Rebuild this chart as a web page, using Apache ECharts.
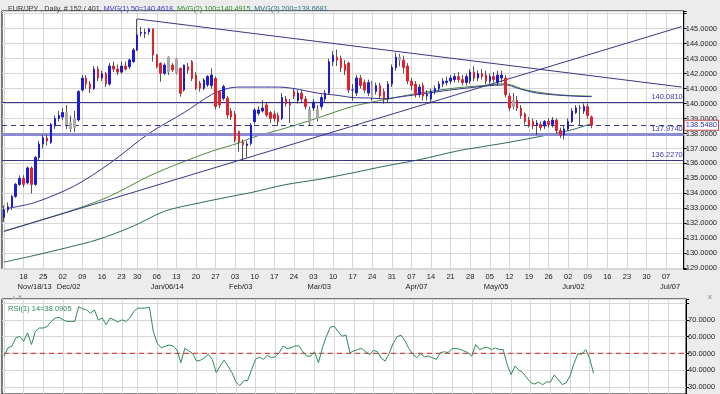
<!DOCTYPE html>
<html><head><meta charset="utf-8">
<script src="https://cdn.jsdelivr.net/npm/echarts@6/dist/echarts.min.js"></script>
<style>html,body{margin:0;padding:0;background:#ececec;}#c{width:720px;height:394px;}</style>
</head><body><div id="c"></div>
<script>
// ---------- data ----------
const symbolName = 'EUR/JPY';
const period = 'Daily';
const barInfo = '# 152 / 401';
const startDate = '2013-11-11';
const categoryCount = 174;
const holidays = ['2013-12-25'];
const firstDayLabel = '2013-11-18';
const monthLabels = {'2013-11-18':'Nov/18/13','2013-12-02':'Dec/02','2014-01-06':'Jan/06/14','2014-02-03':'Feb/03','2014-03-03':'Mar/03','2014-04-07':'Apr/07','2014-05-05':'May/05','2014-06-02':'Jun/02','2014-07-07':'Jul/07'};
// [open, close, low, high]
const ohlc = [
[132.4,132.9,132.1,133.2],[132.9,133.1,132.7,133.4],[133.1,133.8,132.9,133.9],[133.8,134.6,133.7,134.7],[134.6,135.0,134.5,135.2],
[135.0,134.6,134.4,135.2],[134.7,135.7,134.6,135.8],[135.7,134.6,134.0,135.8],[134.6,136.4,134.5,136.5],[136.4,137.3,136.2,137.5],
[137.3,137.7,137.0,137.9],[137.7,137.5,137.2,137.9],[137.4,138.6,137.3,138.7],[138.5,139.0,138.3,139.2],[139.0,139.2,138.8,139.5],
[139.1,139.4,138.9,139.7],[139.4,138.6,138.3,139.9],[138.7,138.3,138.1,139.2],[138.4,139.0,138.1,139.5],[138.9,140.8,138.8,140.9],
[140.9,141.7,140.8,141.9],[141.7,141.3,141.0,141.9],[141.3,141.0,140.7,141.5],[141.0,142.3,140.9,142.5],[142.3,141.7,141.5,142.5],
[141.7,142.0,141.5,142.2],[142.0,141.3,141.1,142.1],[141.3,142.5,141.2,142.7],[142.5,142.3,142.1,142.8],[142.3,142.1,141.9,142.6],
[142.1,142.5,142.0,142.8],[142.5,142.3,142.2,142.8],[142.46,142.91,142.3,143.0],[142.8,143.58,142.7,143.7],[143.58,144.58,143.5,145.65],
[144.7,144.75,144.47,145.14],[144.68,144.74,144.36,145.0],[144.8,144.98,144.58,145.05],[144.98,143.24,142.8,145.0],[143.24,142.46,142.35,143.3],
[142.68,142.02,141.46,142.75],[142.02,142.57,141.9,142.7],[142.1,143.1,141.9,143.15],[142.57,142.24,142.1,142.7],[143.0,142.05,141.95,143.05],
[142.35,140.68,140.46,142.4],[140.9,142.57,140.8,142.6],[142.46,142.24,142.0,142.7],[142.8,141.68,141.5,142.9],[141.9,141.02,140.9,142.1],
[141.35,141.02,140.8,141.5],[141.02,141.57,140.9,141.7],[141.24,141.8,141.1,141.9],[141.2,141.9,141.0,142.35],[141.68,139.79,139.6,141.8],
[140.79,139.9,139.7,140.9],[140.35,141.13,140.2,141.25],[140.35,139.23,139.0,140.5],[139.5,139.1,138.9,139.7],[139.3,137.56,137.4,139.5],
[138.12,137.45,136.78,138.2],[137.4,137.25,136.25,137.6],[137.2,137.3,136.4,137.5],[137.34,138.56,137.2,138.7],[138.79,139.57,138.6,139.7],
[139.35,139.57,139.2,139.8],[139.5,139.7,139.4,140.24],[139.9,139.23,139.1,140.1],[139.4,139.0,138.7,139.5],[139.3,139.0,138.8,139.5],
[139.2,138.8,138.5,139.4],[139.0,140.4,138.9,140.7],[140.3,140.0,139.8,140.5],[140.0,139.9,138.7,140.3],[140.8,140.5,140.3,141.0],
[140.2,140.7,140.0,140.9],[140.7,140.3,140.1,140.9],[140.3,139.8,139.6,140.5],[139.6,138.7,138.5,139.8],[139.7,140.1,139.5,140.3],
[139.6,139.0,138.8,139.9],[139.8,140.4,139.6,140.6],[140.3,140.7,140.1,140.9],[140.7,142.8,140.6,143.0],[142.8,143.2,142.5,143.5],
[143.1,142.9,142.5,143.6],[143.0,142.4,142.1,143.2],[142.6,142.2,141.9,142.9],[142.7,140.9,140.7,142.8],[140.9,140.9,140.2,141.3],
[140.7,141.7,140.5,141.9],[141.7,141.2,141.0,141.9],[141.4,140.9,140.7,141.6],[140.7,141.4,140.5,141.6],[141.3,140.4,140.2,141.5],
[140.8,141.2,140.6,141.4],[141.2,140.5,140.3,141.4],[140.8,140.3,140.0,141.0],[140.3,141.3,140.1,141.5],[141.3,142.4,141.1,142.6],
[142.4,143.1,142.2,143.4],[143.1,142.9,142.5,143.3],[142.9,142.4,142.0,143.2],[142.5,141.5,141.3,142.7],[141.5,141.2,140.9,141.7],
[141.3,140.6,140.4,141.5],[140.6,141.1,140.4,141.3],[141.2,140.5,140.2,141.4],[140.5,140.6,140.2,140.9],[140.3,140.8,140.0,141.0],
[140.8,141.0,140.6,141.2],[141.0,141.3,140.8,141.5],[141.3,141.5,141.1,141.7],[141.4,141.5,141.2,141.8],[141.5,141.7,141.3,141.9],
[141.6,141.8,141.4,142.0],[141.8,141.6,141.4,142.1],[141.6,141.4,141.2,141.9],[141.4,141.8,141.2,142.0],[141.5,142.1,141.3,142.3],
[142.1,141.7,141.5,142.5],[141.7,142.0,141.5,142.2],[142.0,141.8,141.6,142.3],[141.9,141.5,141.3,142.2],[141.5,141.8,141.3,142.0],
[141.8,141.6,141.4,142.1],[141.4,141.9,141.2,142.2],[141.7,141.9,141.4,142.2],[141.7,140.6,140.4,141.9],[140.5,139.7,139.5,140.7],
[139.8,140.2,139.6,140.7],[140.2,139.7,139.5,140.5],[139.7,139.2,139.0,139.9],[139.3,138.8,138.6,139.4],[138.9,138.5,138.4,139.1],
[138.8,138.5,138.3,139.0],[138.6,138.7,137.9,138.9],[138.6,138.4,138.2,138.8],[138.5,138.8,138.3,138.9],[138.8,138.6,138.4,139.0],
[138.6,138.9,138.4,139.1],[138.9,138.2,138.0,139.0],[138.2,137.9,137.7,138.4],[137.9,138.3,137.6,138.5],[138.3,138.8,138.2,139.0],
[138.8,139.5,138.7,139.7],[139.4,139.7,139.3,139.9],[139.7,139.7,138.5,139.9],[139.5,139.8,139.3,140.0],[139.8,139.2,139.0,140.0],
[139.1,138.55,138.35,139.2]
];
const neutralBars = [16,17,18,42,44,78,80,94,101,130];
// moving averages read at selected bars: [barIndex, value]
const ma50Name = 'MVG(1) 50', ma50Last = 140.4618;
const ma100Name = 'MVG(2) 100', ma100Last = 140.4915;
const ma200Name = 'MVG(3) 200', ma200Last = 138.6681;
const ma50 = [[1,133.0],[8,133.4],[18,134.5],[27,136.0],[37,138.0],[46,139.4],[53,140.6],[57,141.0],[60,141.1],[63,141.1],[70,141.1],[74,141.0],[80,140.7],[85,140.55],[89,140.4],[93,140.37],[97,140.32],[102,140.48],[107,140.65],[111,140.8],[116,140.97],[128,141.25],[131,141.03],[136,140.7],[145,140.5],[150,140.46]];
const ma100 = [[0,131.48],[7,132.03],[18,132.92],[27,133.81],[37,135.15],[45,136.03],[53,136.81],[60,137.37],[63,137.7],[72,138.37],[80,139.03],[89,139.81],[97,140.25],[106,140.7],[115,141.03],[120,141.15],[128,141.32],[133,140.92],[141,140.6],[150,140.49]];
const ma200 = [[0,129.41],[7,129.81],[16,130.37],[24,130.92],[33,131.81],[41,132.81],[50,133.37],[60,133.9],[63,134.05],[72,134.59],[80,134.92],[89,135.37],[97,135.81],[106,136.25],[116,136.85],[120,137.03],[128,137.37],[137,137.81],[145,138.25],[150,138.67]];
const rsiName = 'RSI(1) 14', rsiLast = 38.0905, rsiMid = 50;
const rsi = [48.4,53.3,54.3,59.2,60.2,57.2,62.2,55.3,63.1,65.1,
65.1,66.0,69.0,71.0,71.4,70.0,69.0,69.0,69.0,77.8,
76.5,75.9,73.9,75.9,70.0,71.0,67.1,71.0,70.0,68.6,
70.0,69.0,71.0,74.9,76.9,76.9,77.0,77.4,63.0,56.0,
53.3,54.3,55.0,54.5,52.0,44.5,53.0,51.5,50.0,45.5,
46.0,47.5,49.4,46.5,38.6,42.5,46.0,42.5,38.6,33.0,
30.8,33.7,34.0,40.5,46.5,47.8,46.5,49.0,47.5,48.0,
50.4,54.3,52.9,53.3,54.5,54.5,51.2,48.4,48.4,51.0,
44.5,53.3,60.0,65.5,66.2,63.0,60.2,61.0,50.4,51.5,
52.3,53.0,51.0,49.4,51.8,51.0,47.0,45.5,50.0,56.0,
60.0,60.8,57.5,53.0,49.6,47.5,49.8,48.0,48.4,47.4,
46.5,50.4,51.0,50.5,52.9,52.9,52.5,51.5,50.5,48.4,
55.3,52.3,53.3,53.5,52.3,53.3,52.3,52.3,43.5,37.5,
42.5,40.0,38.6,35.5,32.7,31.8,33.0,31.4,33.0,33.0,
37.2,34.5,31.5,32.5,36.7,44.0,49.8,49.5,52.3,47.0,38.1];
const levels = [140.0810, 137.9740, 136.2270];
const lastPrice = 138.5480;
// trend lines: [[date, price], [date, price]]
const trendLines = [
  [['2013-11-11',131.46],['2014-07-11',145.14]],
  [['2013-12-30',145.65],['2014-07-11',141.1]]
];

// ---------- categories (trading days) ----------
const dates = [];
(function(){
  let d = new Date(startDate + 'T00:00:00Z');
  while (dates.length < categoryCount) {
    const wd = d.getUTCDay();
    const s = d.toISOString().slice(0,10);
    if (wd !== 0 && wd !== 6 && holidays.indexOf(s) < 0) dates.push(s);
    d = new Date(d.getTime() + 86400000);
  }
})();
const isMonday = v => new Date(v + 'T00:00:00Z').getUTCDay() === 1;
const isDayLabel = v => isMonday(v) && v >= firstDayLabel;

// ---------- colours / fonts ----------
const FONT = 'Liberation Sans, Arial, sans-serif';
const FS = 7.5;
const UP = '#1c1cd8', DOWN = '#e2232b', NEUTRAL = '#a9a9a9', WICK = '#2a2a2a';
const NAVY = '#38388c';
const GRIDC = '#d6d6d6';
const MIDRED = '#d04a4a';

const bodies = ohlc.map((c, i) => {
  const v = [c[0], c[1], Math.min(c[0], c[1]), Math.max(c[0], c[1])];
  if (neutralBars.indexOf(i) >= 0) return {value: v, itemStyle: {color: NEUTRAL, color0: NEUTRAL, borderColor: NEUTRAL, borderColor0: NEUTRAL}};
  return v;
});
// RSI middle level spanning the whole category range
const rsiMidLine = [[dates[0], rsiMid], [dates[dates.length - 1], rsiMid]];

const chart = echarts.init(document.getElementById('c'), null, {renderer: 'canvas'});
const splitX = {show: true, interval: (i, v) => isMonday(v), alignWithLabel: true, lineStyle: {color: GRIDC, width: 1}};

const levelLines = levels.map((v, k) => ({
  yAxis: v,
  lineStyle: k === 1 ? {color: '#8c8cd2', width: 3, type: 'solid'} : {color: NAVY, width: 1, type: 'solid'},
  label: {show: true, position: 'insideEndTop', formatter: v.toFixed(4), color: '#3a3ab0', fontSize: FS, fontFamily: FONT, distance: 1}
}));
const trendData = trendLines.map(t => [{coord: t[0]}, {coord: t[1]}]);
const boxLabel = txt => ({show: true, position: 'end', distance: 1, formatter: txt, color: '#3030c0', fontSize: FS, fontFamily: FONT, backgroundColor: '#fff', borderColor: '#c04a4a', borderWidth: 1, padding: [1, 1, 0, 1]});

chart.setOption({
  animation: false,
  backgroundColor: '#ececec',
  textStyle: {fontFamily: FONT},
  title: [
    {left: 3, top: 1, text: '{a|' + symbolName + ' , ' + period + ', ' + barInfo + ', }{b|' + ma50Name + '=' + ma50Last.toFixed(4) + ', }{c|' + ma100Name + '=' + ma100Last.toFixed(4) + ', }{d|' + ma200Name + '=' + ma200Last.toFixed(4) + '}',
     textStyle: {fontSize: 7.2, fontWeight: 'normal', rich: {a: {color: '#333', fontSize: 7.2, fontFamily: FONT}, b: {color: '#3434c4', fontSize: 7.2, fontFamily: FONT}, c: {color: '#2c8a2c', fontSize: 7.2, fontFamily: FONT}, d: {color: '#2c6f80', fontSize: 7.2, fontFamily: FONT}}}},
    {left: 3, top: 300, text: rsiName + '=' + rsiLast.toFixed(4), textStyle: {fontSize: FS, fontWeight: 'normal', color: '#2e8b57', fontFamily: FONT}},
    {left: 6, top: 289, text: '\u25B2\u25BC', textStyle: {fontSize: 6, fontWeight: 'normal', color: '#9fb0cc'}},
    {right: 3, top: 288, text: 'x', textStyle: {fontSize: 8, fontWeight: 'bold', color: '#8ea2c0'}}
  ],
  grid: [
    {left: 2, right: 34, top: 11, height: 258, show: true, backgroundColor: '#fff', borderColor: '#000', borderWidth: 1},
    {left: 2, right: 34, top: 299, height: 96, show: true, backgroundColor: '#fff', borderColor: '#000', borderWidth: 1}
  ],
  xAxis: [
    {type: 'category', gridIndex: 0, data: dates, boundaryGap: true, axisLine: {show: false}, axisTick: {show: false},
     axisLabel: {interval: (i, v) => isDayLabel(v), formatter: v => v.slice(8, 10), fontSize: FS, color: '#222', margin: 4, fontFamily: FONT},
     splitLine: splitX},
    {type: 'category', gridIndex: 0, position: 'bottom', data: dates, boundaryGap: true, axisLine: {show: false}, axisTick: {show: false},
     axisLabel: {interval: (i, v) => v in monthLabels, formatter: v => monthLabels[v] || '', fontSize: FS, color: '#222', margin: 14, align: 'left', padding: [0, 0, 0, -6], fontFamily: FONT},
     splitLine: {show: false}},
    {type: 'category', gridIndex: 1, data: dates, boundaryGap: true, axisLine: {show: false}, axisTick: {show: false}, axisLabel: {show: false}, splitLine: splitX}
  ],
  yAxis: [
    {type: 'value', gridIndex: 0, position: 'right', min: 128.95, max: 146.18, minInterval: 1, maxInterval: 1,
     axisLine: {show: true, lineStyle: {color: '#000'}}, axisTick: {show: true, length: 3, lineStyle: {color: '#000'}},
     axisLabel: {formatter: v => (Math.abs(v - Math.round(v)) < 1e-6 && v < 145.5) ? v.toFixed(4) : '', fontSize: FS, color: '#222', margin: 2, fontFamily: FONT},
     splitLine: {show: true, lineStyle: {color: GRIDC}}},
    {type: 'value', gridIndex: 1, position: 'right', min: 25.9, max: 82.35, minInterval: 10, maxInterval: 10,
     axisLine: {show: true, lineStyle: {color: '#000'}}, axisTick: {show: true, length: 3, lineStyle: {color: '#000'}},
     axisLabel: {formatter: v => (Math.abs(v - Math.round(v)) < 1e-6 && v < 75) ? v.toFixed(4) : '', fontSize: FS, color: '#222', margin: 2, fontFamily: FONT},
     splitLine: {show: true, lineStyle: {color: GRIDC}}}
  ],
  series: [
    {type: 'line', name: ma200Name, xAxisIndex: 0, yAxisIndex: 0, data: ma200, smooth: 0.3, showSymbol: false, lineStyle: {color: '#2f6a5a', width: 1}, z: 1, silent: true},
    {type: 'line', name: ma100Name, xAxisIndex: 0, yAxisIndex: 0, data: ma100, smooth: 0.3, showSymbol: false, lineStyle: {color: '#4d8a3c', width: 1}, z: 1, silent: true},
    {type: 'line', name: ma50Name, xAxisIndex: 0, yAxisIndex: 0, data: ma50, smooth: 0.3, showSymbol: false, lineStyle: {color: '#343494', width: 1}, z: 1, silent: true},
    {type: 'candlestick', name: 'wick', xAxisIndex: 0, yAxisIndex: 0, data: ohlc, barWidth: 1, silent: true, z: 3,
     itemStyle: {color: WICK, color0: WICK, borderColor: WICK, borderColor0: WICK, borderWidth: 0.8}},
    {type: 'candlestick', name: symbolName, xAxisIndex: 0, yAxisIndex: 0, data: bodies, barWidth: 2, silent: true, z: 4,
     itemStyle: {color: UP, color0: DOWN, borderColor: UP, borderColor0: DOWN, borderWidth: 1},
     markLine: {silent: true, symbol: 'none', animation: false, z: 2,
       data: levelLines.concat([{yAxis: lastPrice, lineStyle: {color: NAVY, width: 1, type: [5, 4]}, label: boxLabel(lastPrice.toFixed(4))}]).concat(trendData),
       lineStyle: {color: NAVY, width: 1, type: 'solid'}, label: {show: false}}},
    {type: 'line', name: 'RSI 50', xAxisIndex: 2, yAxisIndex: 1, data: rsiMidLine, showSymbol: false, silent: true, z: 2,
     itemStyle: {color: MIDRED}, lineStyle: {color: MIDRED, width: 1.2, type: [5, 4]}},
    {type: 'line', name: rsiName, xAxisIndex: 2, yAxisIndex: 1, data: rsi, showSymbol: false, itemStyle: {color: '#2e8b57'}, lineStyle: {color: '#2e8b57', width: 1}, silent: true, z: 3,
     markLine: {silent: true, symbol: 'none', animation: false,
       data: [{yAxis: rsiLast, lineStyle: {opacity: 0}, label: boxLabel(rsiLast.toFixed(4))}]}}
  ]
});
</script></body></html>
